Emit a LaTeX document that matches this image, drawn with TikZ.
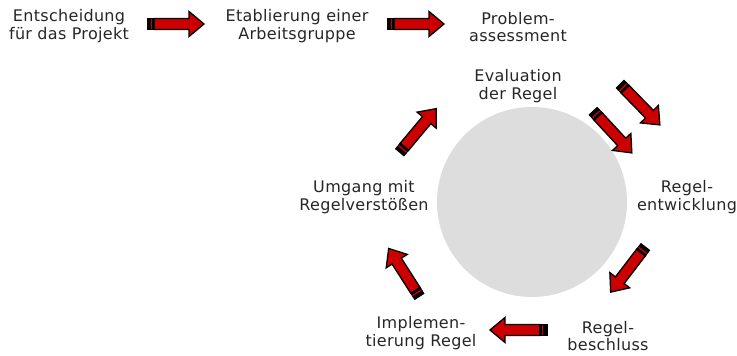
\documentclass[tikz,border=0pt]{standalone}
\usepackage{fontspec}
\setmainfont[LetterSpace=2]{DejaVu Sans}
\usetikzlibrary{calc}
\definecolor{arrred}{HTML}{CC0000}
\definecolor{circgray}{HTML}{DDDDDD}
\tikzset{
  lbl/.style={align=center, inner sep=0pt, font=\fontsize{16}{17.5}\selectfont, text=black!85},
  pics/barrow/.style={code={
    \begin{scope}[shift={(-28.5,0)}]
      \filldraw[fill=arrred, draw=black, line width=1.3pt, line join=miter]
        (7,-5.5) -- (42,-5.5) -- (42,-12.5) -- (57,0) -- (42,12.5) -- (42,5.5) -- (7,5.5) -- cycle;
      \filldraw[fill=black, draw=black, line width=0.8pt] (0,-5.5) rectangle (3.2,5.5);
      \filldraw[fill=arrred, draw=black, line width=0.8pt] (3.2,-5.5) rectangle (5.8,5.5);
      \filldraw[fill=black, draw=black, line width=0.8pt] (5.8,-5.5) rectangle (7.6,5.5);
    \end{scope}
  }}
}
\newcommand\placearrow[2]{%
  \path let \p1=($(#2)-(#1)$), \n1={atan2(\y1,\x1)} in
    ($(#1)!0.5!(#2)$) pic[rotate=\n1] {barrow};}
\begin{document}
\begin{tikzpicture}[x=1pt,y=-1pt]
\useasboundingbox (0,0) rectangle (737,356);
\fill[circgray] (532,202) circle[radius=95];
% labels
\node[lbl] (t1) at (69,26) {Entscheidung\\für das Projekt};
\node[lbl] (t2) at (297,26) {Etablierung einer\\Arbeitsgruppe};
\node[lbl] (t3) at (518,27) {Problem-\\assessment};
\node[lbl] (t4) at (518,86) {Evaluation\\der Regel};
\node[lbl] (t5) at (687,197) {Regel-\\entwicklung};
\node[lbl] (t6) at (608,336) {Regel-\\beschluss};
\node[lbl] (t7) at (421,333) {Implemen-\\tierung Regel};
\node[lbl] (t8) at (364,197) {Umgang mit\\Regelverstößen};
% arrow ends
\coordinate (a1s) at (147,24);  \coordinate (a1e) at (204,24);
\coordinate (a2s) at (387,24);  \coordinate (a2e) at (444,24);
\coordinate (a3s) at (621,85);  \coordinate (a3e) at (659,124);
\coordinate (a4s) at (594,112); \coordinate (a4e) at (631,152);
\coordinate (a5s) at (646,246); \coordinate (a5e) at (610,293);
\coordinate (a6s) at (547,330); \coordinate (a6e) at (490,330);
\coordinate (a7s) at (419,296); \coordinate (a7e) at (389,249);
\coordinate (a8s) at (400,152); \coordinate (a8e) at (436,109);
\placearrow{a1s}{a1e}
\placearrow{a2s}{a2e}
\placearrow{a3s}{a3e}
\placearrow{a4s}{a4e}
\placearrow{a5s}{a5e}
\placearrow{a6s}{a6e}
\placearrow{a7s}{a7e}
\placearrow{a8s}{a8e}
\end{tikzpicture}
\end{document}
